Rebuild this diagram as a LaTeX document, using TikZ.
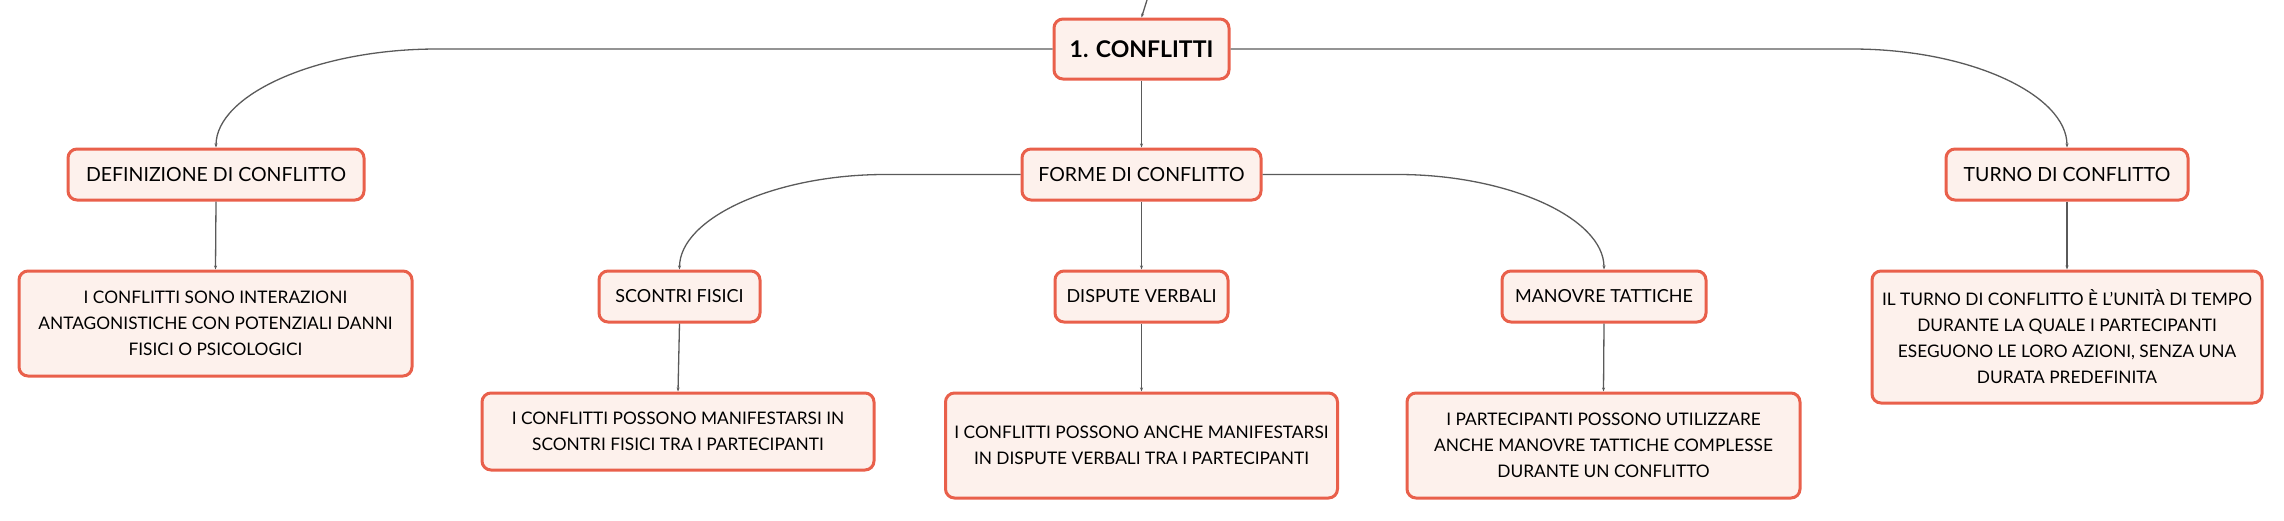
\documentclass[tikz,border=0pt]{standalone}
\usepackage{fontspec}
\setmainfont{Lato}
\usetikzlibrary{arrows.meta}
\definecolor{bordo}{HTML}{E9604B}
\definecolor{fondo}{HTML}{FDF1EC}
\definecolor{linea}{HTML}{5A5A5A}
\begin{document}
\begin{tikzpicture}[x=1pt,y=-1pt,
  box/.style={draw=bordo,fill=fondo,line width=3pt,rounded corners=9pt,
    inner sep=0pt,align=center,font=\fontsize{17.3}{26}\selectfont},
  lvlone/.style={box,font=\fontsize{19.5}{26}\selectfont},
  lvltwo/.style={box,font=\fontsize{18}{26}\selectfont},
  rootbox/.style={box,font=\fontsize{23}{26}\selectfont\bfseries},
  conn/.style={draw=linea,line width=1.3pt,-{Stealth[length=4pt,width=3pt]}}]
\useasboundingbox (0,0) rectangle (2284,520);
% nodes
\node[rootbox,minimum width=175pt,minimum height=60pt] (root) at (1141.5,49) {1. CONFLITTI};
\node[lvlone,minimum width=296pt,minimum height=51pt] (def) at (216,174.5) {DEFINIZIONE DI CONFLITTO};
\node[lvlone,minimum width=239pt,minimum height=51pt] (forme) at (1141.5,174.5) {FORME DI CONFLITTO};
\node[lvlone,minimum width=242pt,minimum height=51pt] (turno) at (2067,174.5) {TURNO DI CONFLITTO};
\node[box,minimum width=393pt,minimum height=105pt] (defleaf) at (215.5,323.5) {I CONFLITTI SONO INTERAZIONI\\ANTAGONISTICHE CON POTENZIALI DANNI\\FISICI O PSICOLOGICI};
\node[lvltwo,minimum width=161pt,minimum height=51pt] (scontri) at (679.5,296.5) {SCONTRI FISICI};
\node[lvltwo,minimum width=173pt,minimum height=51pt] (dispute) at (1141.5,296.5) {DISPUTE VERBALI};
\node[lvltwo,minimum width=204pt,minimum height=51pt] (manovre) at (1604,296.5) {MANOVRE TATTICHE};
\node[box,minimum width=390pt,minimum height=132pt] (turnoleaf) at (2067,337) {IL TURNO DI CONFLITTO È L'UNITÀ DI TEMPO\\DURANTE LA QUALE I PARTECIPANTI\\ESEGUONO LE LORO AZIONI, SENZA UNA\\DURATA PREDEFINITA};
\node[box,minimum width=392pt,minimum height=77pt] (scontrileaf) at (678,431.5) {I CONFLITTI POSSONO MANIFESTARSI IN\\SCONTRI FISICI TRA I PARTECIPANTI};
\node[box,minimum width=392pt,minimum height=105pt] (disputeleaf) at (1141.5,445.5) {I CONFLITTI POSSONO ANCHE MANIFESTARSI\\IN DISPUTE VERBALI TRA I PARTECIPANTI};
\node[box,minimum width=393pt,minimum height=105pt] (manovreleaf) at (1603.5,445.5) {I PARTECIPANTI POSSONO UTILIZZARE\\ANCHE MANOVRE TATTICHE COMPLESSE\\DURANTE UN CONFLITTO};
% incoming connector from above
\coordinate (topin) at (1147,0);
\draw[conn] (topin) -- (root.north);
% root children
\draw[conn] (root.west) -- (437,49) .. controls (316,49) and (216,95) .. (def.north);
\draw[conn] (root.south) -- (forme.north);
\draw[conn] (root.east) -- (1852,49) .. controls (1970,49) and (2067,95) .. (turno.north);
% forme children
\draw[conn] (forme.west) -- (885,174.5) .. controls (775,174.5) and (679.5,218) .. (scontri.north);
\draw[conn] (forme.south) -- (dispute.north);
\draw[conn] (forme.east) -- (1398,174.5) .. controls (1508,174.5) and (1604,218) .. (manovre.north);
% leaves
\draw[conn] (def.south) -- (defleaf.north);
\draw[conn] (turno.south) -- (turnoleaf.north);
\draw[conn] (scontri.south) -- (scontrileaf.north);
\draw[conn] (dispute.south) -- (disputeleaf.north);
\draw[conn] (manovre.south) -- (manovreleaf.north);
\end{tikzpicture}
\end{document}
